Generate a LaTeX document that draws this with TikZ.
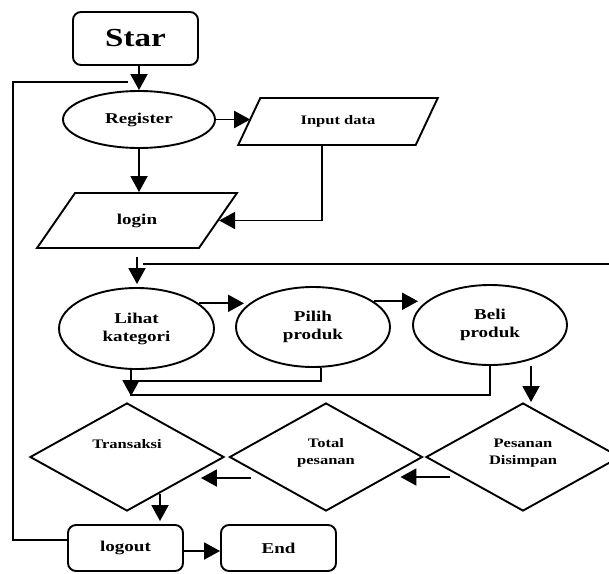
\documentclass[tikz,border=0pt]{standalone}
\usepackage{fontspec}
\setmainfont{Liberation Serif}[FakeStretch=1.27]
\usetikzlibrary{shapes.geometric,arrows.meta}
\tikzset{
  base/.style={draw=black, line width=1.9pt, font=\bfseries\fontsize{15}{18}\selectfont, text=black, align=center, inner sep=0pt},
  term/.style={base, rectangle, rounded corners=8pt, minimum width=115pt, minimum height=46pt},
  oval/.style={base, ellipse, minimum width=154pt, minimum height=80pt},
  io/.style={base, trapezium, trapezium left angle=48, trapezium right angle=132, trapezium stretches=true, minimum width=200pt},
  dec/.style={base, diamond, minimum width=194pt, minimum height=108pt},
  lbl/.style={font=\bfseries\fontsize{13}{17}\selectfont, align=center, inner sep=0pt},
  arr/.style={line width=1.9pt, -{Triangle[length=16pt,width=17pt]}},
  ln/.style={line width=1.9pt},
}
\begin{document}
\begin{tikzpicture}[x=1pt,y=-1pt]
\useasboundingbox (0,0) rectangle (609,573);
% nodes
\node[term, minimum width=125pt, minimum height=53pt, font=\bfseries\fontsize{26}{30}\selectfont] (star) at (135.5,38.5) {Star};
\node[oval, minimum width=152pt, minimum height=57pt] (reg) at (139,119.5) {Register};
\node[io, minimum height=47pt, font=\bfseries\fontsize{13}{16}\selectfont] (input) at (338,121.5) {Input data};
\node[io, minimum height=55pt] (login) at (137,220.5) {login};
\node[oval, minimum width=155pt, minimum height=81pt] (lihat) at (136.5,328.5) {Lihat\\kategori};
\node[oval] (pilih) at (313,327) {Pilih\\produk};
\node[oval] (beli) at (490,325) {Beli\\produk};
\node[dec, label={[lbl, yshift=13pt]center:Transaksi}] (trans) at (127,457) {};
\node[dec, minimum width=193pt, label={[lbl, yshift=4pt]center:Total\\pesanan}] (tot) at (326,457) {};
\node[dec, label={[lbl, yshift=4pt]center:Pesanan\\Disimpan}] (pes) at (523,457) {};
\node[term] (logout) at (125.5,548) {logout};
\node[term] (end) at (278.5,548) {End};
% helper coordinates
\coordinate (loopend) at (128,82);
\coordinate (rin) at (609,264);
\coordinate (m) at ([xshift=4pt,yshift=6pt]trans.north);
\coordinate (ls) at ([yshift=-8pt]login.south);
\coordinate (ts) at ([xshift=33pt,yshift=18pt]trans.south);
% connectors
\draw[arr] (reg.north |- star.south) -- (reg.north);
\draw[ln] ([yshift=8pt]logout.west) -- ++(-54,0) |- (loopend);
\draw[arr] (reg.east) -- ([xshift=2pt]reg.east -| input.west);
\draw[arr] (reg.south) -- (reg.south |- login.north);
\draw[arr] ([xshift=-16pt]input.south) |- (login.east);
\draw[arr] (ls) -- ([yshift=3pt]ls |- lihat.north);
\draw[ln] (rin) -- ([xshift=6pt]ls |- rin);
\draw[arr] (lihat.22) -- ([xshift=9pt]lihat.22 -| pilih.west);
\draw[arr] (pilih.23) -- ([xshift=6pt]pilih.23 -| beli.west);
\draw[arr] (lihat.south -| m) -- (m);
\draw[ln] ([xshift=8pt]pilih.south) -- ++(0,13) -| (m);
\draw[ln] (beli.south) -- ++(0,29) -| (m);
\draw[arr] ([xshift=41pt]beli.south) -- ([xshift=41pt]beli.south |- pes.north);
\draw[arr] ([xshift=25pt,yshift=-20pt]pes.west) -- ([xshift=-23pt,yshift=-20pt]tot.east);
\draw[arr] ([xshift=22pt,yshift=-21pt]tot.west) -- ([xshift=-24pt,yshift=-21pt]trans.east);
\draw[arr] (ts) -- ([yshift=3pt]ts |- logout.north);
\draw[arr] ([yshift=-3pt]logout.east) -- ([yshift=-3pt]end.west);
\end{tikzpicture}
\end{document}
